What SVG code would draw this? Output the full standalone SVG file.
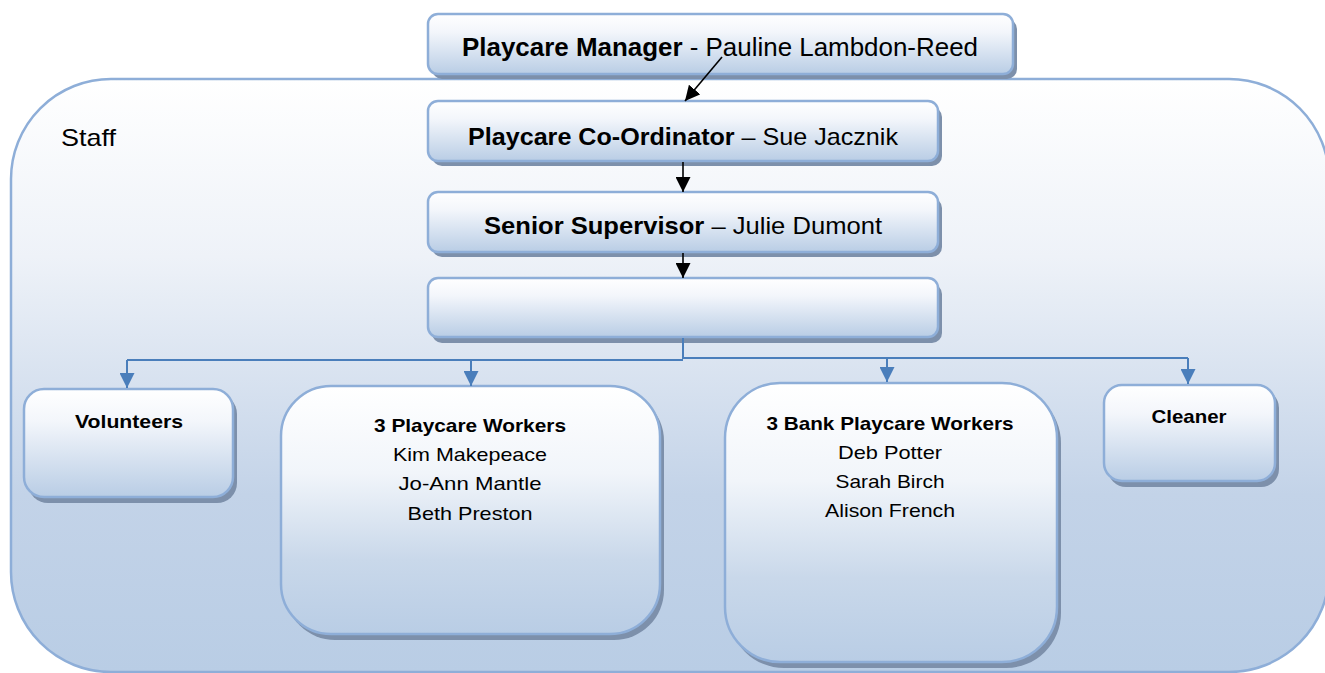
<svg xmlns="http://www.w3.org/2000/svg" width="1325" height="673" viewBox="0 0 1325 673">
<defs>
<linearGradient id="gBox" x1="0" y1="0" x2="0" y2="1">
<stop offset="0" stop-color="#ffffff"/>
<stop offset="0.3" stop-color="#f3f6fb"/>
<stop offset="1" stop-color="#b9cde5"/>
</linearGradient>
<linearGradient id="gBig" x1="0" y1="0" x2="0" y2="1">
<stop offset="0" stop-color="#ffffff"/>
<stop offset="0.35" stop-color="#f1f5fa"/>
<stop offset="0.7" stop-color="#c9d8ea"/>
<stop offset="1" stop-color="#b9cde5"/>
</linearGradient>
<linearGradient id="gStaff" x1="0" y1="0" x2="0" y2="1">
<stop offset="0" stop-color="#ffffff"/>
<stop offset="0.3" stop-color="#eef2f8"/>
<stop offset="0.7" stop-color="#c3d3e8"/>
<stop offset="1" stop-color="#b9cde5"/>
</linearGradient>
<marker id="mBlack" viewBox="0 0 10 10" refX="10" refY="5" markerWidth="15" markerHeight="15" markerUnits="userSpaceOnUse" orient="auto">
<path d="M0,0 L10,5 L0,10 Z" fill="#000"/>
</marker>
<marker id="mBlue" viewBox="0 0 10 10" refX="10" refY="5" markerWidth="15" markerHeight="15" markerUnits="userSpaceOnUse" orient="auto">
<path d="M0,0 L10,5 L0,10 Z" fill="#4a7ebb"/>
</marker>
</defs>
<style>
.box{fill:url(#gBox);stroke:#8eaed8;stroke-width:2.5}
.big{fill:url(#gBig);stroke:#8eaed8;stroke-width:2.5}
.sh{fill:#7d90ab}
.t{font-family:"Liberation Sans",Arial,sans-serif;fill:#000}
.b{font-weight:bold}
.blk{stroke:#000;stroke-width:1.6;fill:none}
.blu{stroke:#4a7ebb;stroke-width:2;fill:none}
</style>

<g id="staff">
<rect x="11" y="79" width="1318" height="593" rx="100" ry="100" fill="url(#gStaff)" stroke="#8eaed8" stroke-width="2.5"/>
<text class="t" x="61" y="146" font-size="24" textLength="55" lengthAdjust="spacingAndGlyphs">Staff</text>
</g>

<g id="manager">
<rect class="sh" x="432" y="19" width="585" height="60" rx="10"/>
<rect class="box" x="428" y="14" width="585" height="60" rx="10"/>
<text class="t" x="462" y="56" font-size="25" textLength="516" lengthAdjust="spacingAndGlyphs"><tspan class="b">Playcare Manager</tspan> - Pauline Lambdon-Reed</text>
</g>

<g id="coordinator">
<rect class="sh" x="432" y="107" width="510" height="59" rx="10"/>
<rect class="box" x="428" y="101" width="510" height="60" rx="10"/>
<text class="t" x="468" y="145" font-size="24" textLength="430" lengthAdjust="spacingAndGlyphs"><tspan class="b">Playcare Co-Ordinator</tspan> – Sue Jacznik</text>
</g>

<g id="supervisor">
<rect class="sh" x="432" y="198" width="510" height="59" rx="10"/>
<rect class="box" x="428" y="192" width="510" height="60" rx="10"/>
<text class="t" x="484" y="234" font-size="24" textLength="398" lengthAdjust="spacingAndGlyphs"><tspan class="b">Senior Supervisor</tspan> – Julie Dumont</text>
</g>

<g id="blank">
<rect class="sh" x="432" y="284" width="510" height="59" rx="10"/>
<rect class="box" x="428" y="278" width="510" height="59" rx="10"/>
</g>

<g id="volunteers">
<rect class="sh" x="28" y="394" width="209" height="109" rx="20"/>
<rect class="box" x="24" y="389" width="209" height="108" rx="20"/>
<text class="t b" x="129" y="428" font-size="19" text-anchor="middle" textLength="108" lengthAdjust="spacingAndGlyphs">Volunteers</text>
</g>

<g id="workers">
<rect class="sh" x="285" y="391" width="379" height="249" rx="50"/>
<rect class="big" x="281" y="386" width="379" height="248" rx="50"/>
<text class="t b" x="470" y="432" font-size="19" text-anchor="middle" textLength="192" lengthAdjust="spacingAndGlyphs">3 Playcare Workers</text>
<text class="t" x="470" y="461" font-size="19" text-anchor="middle" textLength="154" lengthAdjust="spacingAndGlyphs">Kim Makepeace</text>
<text class="t" x="470" y="490" font-size="19" text-anchor="middle" textLength="143" lengthAdjust="spacingAndGlyphs">Jo-Ann Mantle</text>
<text class="t" x="470" y="520" font-size="19" text-anchor="middle" textLength="125" lengthAdjust="spacingAndGlyphs">Beth Preston</text>
</g>

<g id="bank">
<rect class="sh" x="729" y="388" width="332" height="280" rx="55"/>
<rect class="big" x="725" y="383" width="332" height="279" rx="55"/>
<text class="t b" x="890" y="430" font-size="19" text-anchor="middle" textLength="247" lengthAdjust="spacingAndGlyphs">3 Bank Playcare Workers</text>
<text class="t" x="890" y="459" font-size="19" text-anchor="middle" textLength="104" lengthAdjust="spacingAndGlyphs">Deb Potter</text>
<text class="t" x="890" y="488" font-size="19" text-anchor="middle" textLength="109" lengthAdjust="spacingAndGlyphs">Sarah Birch</text>
<text class="t" x="890" y="517" font-size="19" text-anchor="middle" textLength="130" lengthAdjust="spacingAndGlyphs">Alison French</text>
</g>

<g id="cleaner">
<rect class="sh" x="1108" y="390" width="171" height="97" rx="18"/>
<rect class="box" x="1104" y="385" width="171" height="96" rx="18"/>
<text class="t b" x="1189" y="423" font-size="19" text-anchor="middle" textLength="75" lengthAdjust="spacingAndGlyphs">Cleaner</text>
</g>

<g id="connectors">
<line class="blk" x1="722" y1="57" x2="685" y2="101" marker-end="url(#mBlack)"/>
<line class="blk" x1="683" y1="162" x2="683" y2="192" marker-end="url(#mBlack)"/>
<line class="blk" x1="683" y1="253" x2="683" y2="278" marker-end="url(#mBlack)"/>
<path class="blu" d="M683,338 V359 M127,360 H683 M683,358 H1188"/>
<line class="blu" x1="127" y1="360" x2="127" y2="388" marker-end="url(#mBlue)"/>
<line class="blu" x1="471" y1="360" x2="471" y2="386" marker-end="url(#mBlue)"/>
<line class="blu" x1="887" y1="358" x2="887" y2="382" marker-end="url(#mBlue)"/>
<line class="blu" x1="1188" y1="358" x2="1188" y2="384" marker-end="url(#mBlue)"/>
</g>
</svg>
